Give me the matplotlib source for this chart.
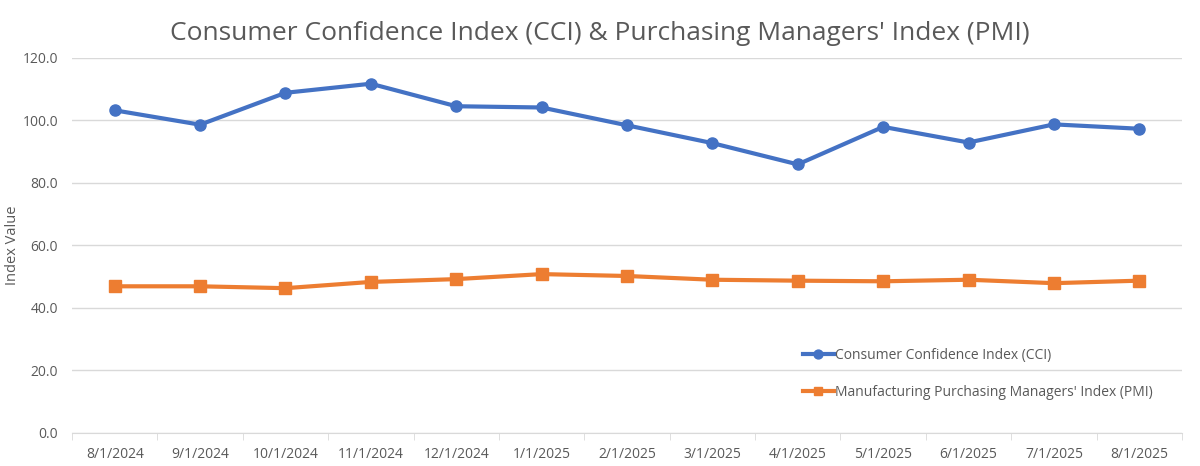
import matplotlib
matplotlib.use("Agg")
import matplotlib.pyplot as plt
from matplotlib.ticker import FormatStrFormatter, FixedLocator
import numpy as np

months = ["8/1/2024", "9/1/2024", "10/1/2024", "11/1/2024", "12/1/2024", "1/1/2025",
          "2/1/2025", "3/1/2025", "4/1/2025", "5/1/2025", "6/1/2025", "7/1/2025", "8/1/2025"]
cci = [103.2, 98.6, 108.8, 111.7, 104.5, 104.1, 98.4, 92.7, 85.9, 97.9, 92.9, 98.7, 97.3]
pmi = [46.9, 46.9, 46.3, 48.3, 49.2, 50.8, 50.2, 49.0, 48.7, 48.5, 49.0, 47.9, 48.7]

plt.rcParams['font.family'] = ['Open Sans', 'DejaVu Sans']
grey = '#595959'

fig = plt.figure(figsize=(12, 4.66), dpi=100)
ax = fig.add_axes([0.06, 0.071, 0.925, 0.805])

x = np.arange(len(months))
ax.plot(x, cci, color='#4472C4', lw=3, marker='o', ms=8, label='Consumer Confidence Index (CCI)')
ax.plot(x, pmi, color='#ED7D31', lw=3, marker='s', ms=8, label="Manufacturing Purchasing Managers' Index (PMI)")

ax.set_xlim(-0.5, len(months) - 0.5)
ax.set_ylim(0, 120)
ax.set_yticks(np.arange(0, 121, 20))
ax.yaxis.set_major_formatter(FormatStrFormatter('%.1f'))
ax.set_xticks(x)
ax.set_xticklabels(months)
ax.xaxis.set_minor_locator(FixedLocator(np.arange(-0.5, len(months), 1)))

ax.grid(axis='y', color='#d9d9d9', lw=1)
ax.set_axisbelow(True)
for s in ['top', 'right', 'left']:
    ax.spines[s].set_visible(False)
ax.spines['bottom'].set_color('#d9d9d9')
ax.tick_params(axis='x', which='major', length=0, pad=10, labelsize=10, labelcolor=grey)
ax.tick_params(axis='x', which='minor', length=5, color='#d9d9d9')
ax.tick_params(axis='y', length=0, pad=10, labelsize=10, labelcolor=grey)

ax.set_ylabel('Index Value', fontsize=10.5, color=grey)
ax.yaxis.set_label_coords(-0.047, 0.5)
fig.suptitle("Consumer Confidence Index (CCI) & Purchasing Managers' Index (PMI)",
             fontsize=19, color=grey, y=0.955)

ax.legend(loc='lower right', bbox_to_anchor=(0.985, 0.055), frameon=False,
          fontsize=10, labelcolor=grey, handlelength=2.2, handletextpad=0.1,
          labelspacing=1.6, markerscale=0.8)

fig.savefig('out.png', dpi=100)
